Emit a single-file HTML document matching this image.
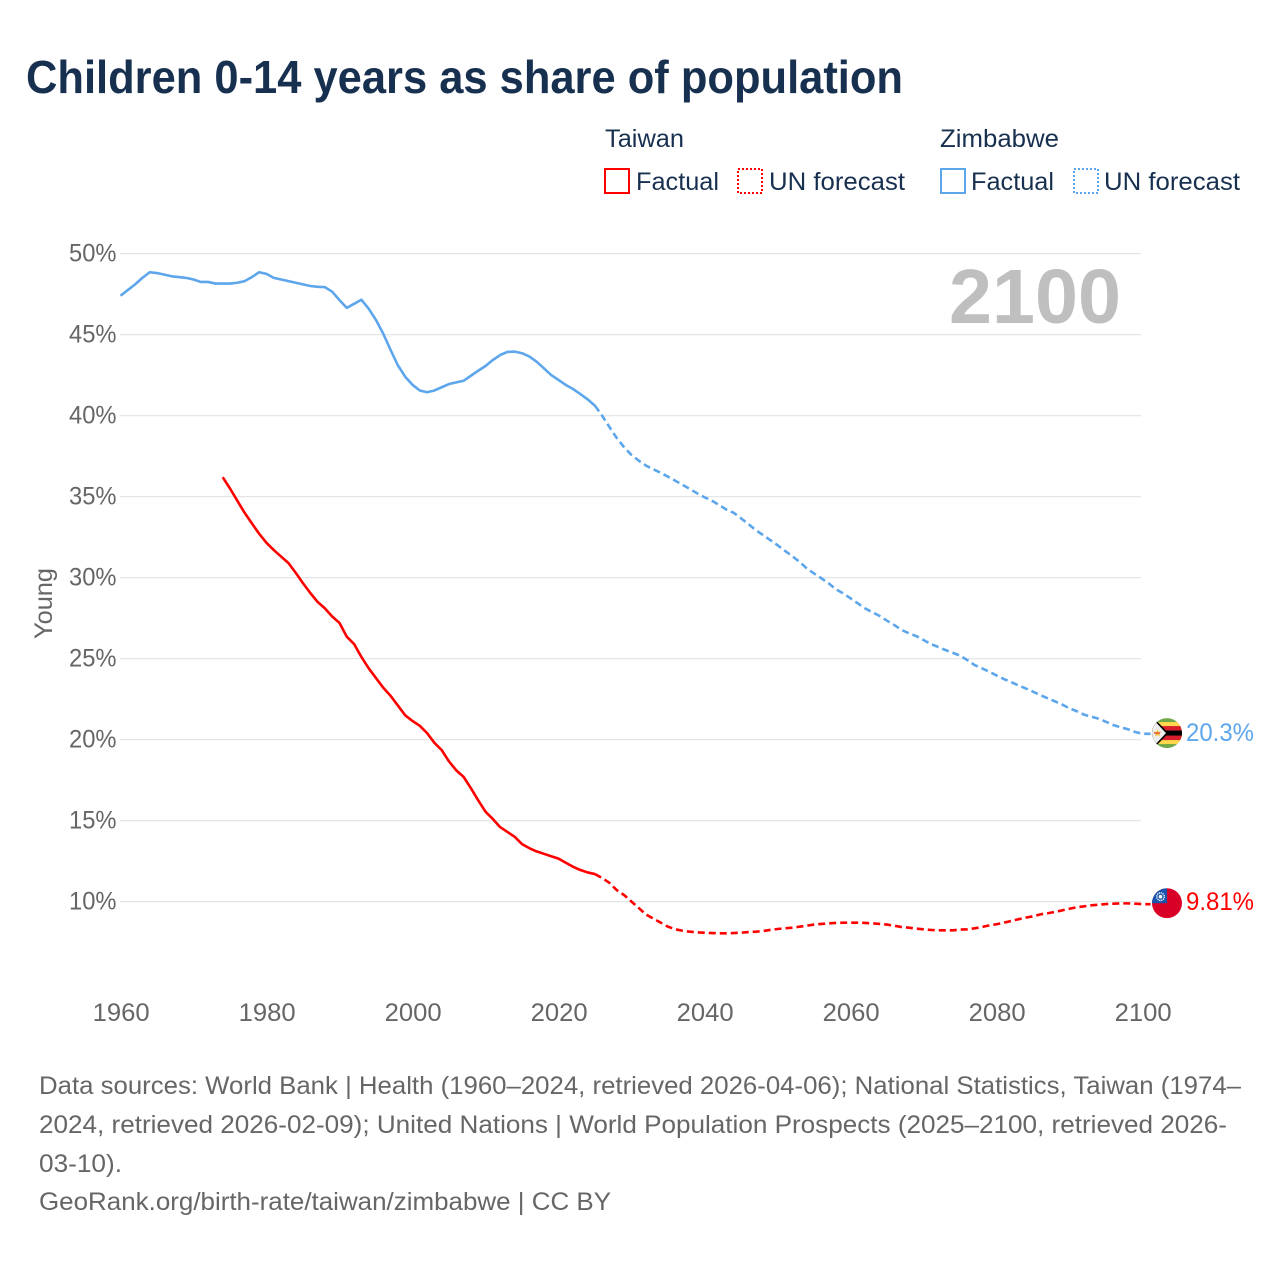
<!DOCTYPE html>
<html lang="en">
<head>
<meta charset="utf-8">
<title>Children 0-14 years as share of population</title>
<style>
html,body{margin:0;padding:0;background:#fff;}
svg{display:block;font-family:"Liberation Sans",sans-serif;}
</style>
</head>
<body>
<svg id="chart" xmlns="http://www.w3.org/2000/svg" width="1280" height="1280" viewBox="0 0 1280 1280">
  <defs>
    <clipPath id="flag-clip"><circle cx="0" cy="0" r="15"/></clipPath>
  </defs>
  <rect x="0" y="0" width="1280" height="1280" fill="#fff"/>

  <text x="26" y="93" font-size="46" font-weight="700" fill="#18304f" textLength="877" lengthAdjust="spacingAndGlyphs">Children 0-14 years as share of population</text>

  <g font-size="25" fill="#18304f">
    <text x="605" y="147" textLength="79" lengthAdjust="spacingAndGlyphs">Taiwan</text>
    <rect x="605" y="169" width="24" height="24" fill="none" stroke="#ff0000" stroke-width="2"/>
    <text x="636" y="190" textLength="83" lengthAdjust="spacingAndGlyphs">Factual</text>
    <rect x="738" y="169" width="24" height="24" fill="none" stroke="#ff0000" stroke-width="2" stroke-dasharray="2 2"/>
    <text x="769" y="190" textLength="136" lengthAdjust="spacingAndGlyphs">UN forecast</text>

    <text x="940" y="147" textLength="119" lengthAdjust="spacingAndGlyphs">Zimbabwe</text>
    <rect x="941" y="169" width="24" height="24" fill="none" stroke="#5da6ec" stroke-width="2"/>
    <text x="971" y="190" textLength="83" lengthAdjust="spacingAndGlyphs">Factual</text>
    <rect x="1074" y="169" width="24" height="24" fill="none" stroke="#5da6ec" stroke-width="2" stroke-dasharray="2 2"/>
    <text x="1104" y="190" textLength="136" lengthAdjust="spacingAndGlyphs">UN forecast</text>
  </g>

  <g id="grid"></g>
  <g id="y-ticks"></g>
  <g id="x-ticks"></g>

  <text transform="translate(52,639) rotate(-90)" font-size="25" fill="#666" textLength="71" lengthAdjust="spacingAndGlyphs">Young</text>

  <text x="949" y="323" font-size="77" font-weight="700" fill="#bfbfbf" textLength="172" lengthAdjust="spacingAndGlyphs">2100</text>

  <g id="series"></g>

  <g id="flag-zimbabwe">
    <g clip-path="url(#flag-clip)">
      <rect x="-15" y="-15" width="30" height="30" fill="#6fa84a"/>
      <rect x="-15" y="-11" width="30" height="22" fill="#ffd84d"/>
      <rect x="-15" y="-7" width="30" height="14" fill="#d81e2c"/>
      <rect x="-15" y="-2.5" width="30" height="5" fill="#000"/>
      <polygon points="-15,-17 1.5,0 -15,17" fill="#000"/>
      <polygon points="-15,-15 -1,0 -15,15" fill="#eeeeee"/>
      <polygon points="-9.5,-4 -8.4,-1.2 -5.5,-1.2 -7.8,0.7 -7,3.5 -9.5,1.9 -12,3.5 -11.2,0.7 -13.5,-1.2 -10.6,-1.2" fill="#f5c33b"/>
      <rect x="-13" y="-0.5" width="6" height="1" fill="#d81e2c"/>
    </g>
  </g>
  <g id="flag-taiwan">
    <g clip-path="url(#flag-clip)">
      <rect x="-15" y="-15" width="30" height="30" fill="#d80027"/>
      <rect x="-15" y="-15" width="15" height="15" fill="#1a55ad"/>
      <circle cx="-6.5" cy="-6.5" r="3.8" fill="none" stroke="#fff" stroke-width="1.4" stroke-dasharray="1.2 0.8"/>
      <circle cx="-6.5" cy="-6.5" r="1.8" fill="#fff"/>
    </g>
  </g>

  <text id="label-zimbabwe" x="1186" font-size="25" fill="#5da6ec" textLength="68" lengthAdjust="spacingAndGlyphs"></text>
  <text id="label-taiwan" x="1186" font-size="25" fill="#ff0000" textLength="68" lengthAdjust="spacingAndGlyphs"></text>

  <g font-size="25" fill="#666">
    <text x="39" y="1094" textLength="1202" lengthAdjust="spacingAndGlyphs">Data sources: World Bank | Health (1960–2024, retrieved 2026-04-06); National Statistics, Taiwan (1974–</text>
    <text x="39" y="1133" textLength="1188" lengthAdjust="spacingAndGlyphs">2024, retrieved 2026-02-09); United Nations | World Population Prospects (2025–2100, retrieved 2026-</text>
    <text x="39" y="1172" textLength="83" lengthAdjust="spacingAndGlyphs">03-10).</text>
    <text x="39" y="1210" textLength="572" lengthAdjust="spacingAndGlyphs">GeoRank.org/birth-rate/taiwan/zimbabwe | CC BY</text>
  </g>
</svg>

<script>
const yTickValues = [50, 45, 40, 35, 30, 25, 20, 15, 10];
const yTickLabels = ["50%", "45%", "40%", "35%", "30%", "25%", "20%", "15%", "10%"];
const xTickYears = [1960, 1980, 2000, 2020, 2040, 2060, 2080, 2100];
const xTickLabels = ["1960", "1980", "2000", "2020", "2040", "2060", "2080", "2100"];

const taiwanFactualStart = 1974;
const taiwanFactual = [
  36.2, 35.5, 34.75, 34.0, 33.35, 32.7,
  32.15, 31.7, 31.3, 30.9, 30.3, 29.65, 29.05, 28.5, 28.1, 27.6,
  27.2, 26.35, 25.9, 25.1, 24.4, 23.8, 23.2, 22.7, 22.1, 21.5,
  21.15, 20.85, 20.4, 19.8, 19.35, 18.65, 18.1, 17.7, 17.0, 16.25,
  15.55, 15.1, 14.6, 14.3, 14.0, 13.55, 13.3, 13.1, 12.95, 12.8,
  12.65, 12.4, 12.15, 11.95, 11.8, 11.7
];
const taiwanForecastStart = 2025;
const taiwanForecast = [
  11.7, 11.45, 11.15, 10.7, 10.4,
  10.0, 9.6, 9.2, 8.95, 8.7, 8.45, 8.29, 8.2, 8.14, 8.10,
  8.08, 8.06, 8.04, 8.04, 8.06, 8.08, 8.12, 8.14, 8.18, 8.25,
  8.31, 8.35, 8.39, 8.45, 8.51, 8.58, 8.62, 8.66, 8.68, 8.70,
  8.70, 8.70, 8.68, 8.66, 8.62, 8.58, 8.51, 8.43, 8.39, 8.33,
  8.29, 8.25, 8.23, 8.23, 8.23, 8.27, 8.29, 8.35, 8.43, 8.53,
  8.60, 8.70, 8.80, 8.91, 9.01, 9.09, 9.21, 9.28, 9.36, 9.46,
  9.56, 9.65, 9.71, 9.77, 9.81, 9.85, 9.87, 9.89, 9.89, 9.87,
  9.84
];
const zimbabweFactualStart = 1960;
const zimbabweFactual = [
  47.4, 47.75, 48.1, 48.5, 48.85, 48.8, 48.7, 48.6, 48.55, 48.5,
  48.4, 48.25, 48.25, 48.15, 48.15, 48.15, 48.2, 48.3, 48.55, 48.85,
  48.75, 48.5, 48.4, 48.3, 48.2, 48.1, 48.0, 47.95, 47.93, 47.65,
  47.13, 46.65, 46.9, 47.15, 46.6, 45.9, 45.05, 44.05, 43.1, 42.4,
  41.9, 41.55, 41.44, 41.55, 41.75, 41.95, 42.05, 42.15, 42.46, 42.77,
  43.06, 43.43, 43.74, 43.93, 43.95, 43.85, 43.65, 43.33, 42.92, 42.5,
  42.2, 41.89, 41.64, 41.33, 41.0, 40.61
];
const zimbabweForecastStart = 2025;
const zimbabweForecast = [
  40.61, 39.98, 39.28, 38.6, 38.04,
  37.57, 37.22, 36.91, 36.68, 36.47, 36.23, 35.98, 35.72, 35.47, 35.2,
  34.96, 34.75, 34.48, 34.2, 34.0, 33.66, 33.31, 32.94, 32.63, 32.32,
  32.0, 31.66, 31.33, 30.98, 30.57, 30.26, 29.96, 29.65, 29.28, 29.03,
  28.72, 28.41, 28.1, 27.86, 27.63, 27.34, 27.07, 26.77, 26.56, 26.39,
  26.15, 25.9, 25.72, 25.53, 25.36, 25.18, 24.91, 24.6, 24.4, 24.19,
  23.96, 23.74, 23.55, 23.35, 23.16, 22.96, 22.75, 22.55, 22.36, 22.16,
  21.93, 21.75, 21.54, 21.41, 21.29, 21.1, 20.9, 20.76, 20.64, 20.47,
  20.36
];
const zimbabweValueLabel = "20.3%";
const taiwanValueLabel = "9.81%";

const NS = "http://www.w3.org/2000/svg";
function xScale(year) { return 120.5 + (year - 1960) * 7.3; }
function yScale(value) { return 253.6 + (50 - value) * 16.2; }

function linePath(startYear, values) {
  return values.map(function (v, i) {
    return (i === 0 ? "M" : "L") + xScale(startYear + i).toFixed(2) + " " + yScale(v).toFixed(2);
  }).join(" ");
}

const gridGroup = document.getElementById("grid");
const yTickGroup = document.getElementById("y-ticks");
yTickValues.forEach(function (v, i) {
  const line = document.createElementNS(NS, "line");
  
  
  line.setAttribute("x1", 120);
  line.setAttribute("x2", 1141);
  line.setAttribute("y1", yScale(v));
  line.setAttribute("y2", yScale(v));
  line.setAttribute("stroke", "#e6e6e6");
  line.setAttribute("stroke-width", "1.3");
  gridGroup.appendChild(line);

  const label = document.createElementNS(NS, "text");
  
  
  label.setAttribute("x", 69);
  label.setAttribute("y", yScale(v) + 8);
  label.setAttribute("font-size", "25");
  label.setAttribute("fill", "#666");
  label.setAttribute("textLength", "47.5");
  label.setAttribute("lengthAdjust", "spacingAndGlyphs");
  label.textContent = yTickLabels[i];
  yTickGroup.appendChild(label);
});

const xTickGroup = document.getElementById("x-ticks");
xTickYears.forEach(function (yr, i) {
  const label = document.createElementNS(NS, "text");
  
  
  label.setAttribute("x", xScale(yr) + 0.6 - 28.5);
  label.setAttribute("y", 1021);
  label.setAttribute("font-size", "25");
  label.setAttribute("fill", "#666");
  label.setAttribute("textLength", "57");
  label.setAttribute("lengthAdjust", "spacingAndGlyphs");
  label.textContent = xTickLabels[i];
  xTickGroup.appendChild(label);
});

const seriesGroup = document.getElementById("series");

const taiwanFactualLine = document.createElementNS(NS, "path");


taiwanFactualLine.setAttribute("d", linePath(taiwanFactualStart, taiwanFactual));
taiwanFactualLine.setAttribute("fill", "none");
taiwanFactualLine.setAttribute("stroke", "#ff0000");
taiwanFactualLine.setAttribute("stroke-width", "2.6");
taiwanFactualLine.setAttribute("stroke-linejoin", "round");
seriesGroup.appendChild(taiwanFactualLine);

const taiwanForecastLine = document.createElementNS(NS, "path");


taiwanForecastLine.setAttribute("d", linePath(taiwanForecastStart, taiwanForecast) + " h8");
taiwanForecastLine.setAttribute("fill", "none");
taiwanForecastLine.setAttribute("stroke", "#ff0000");
taiwanForecastLine.setAttribute("stroke-width", "2.6");
taiwanForecastLine.setAttribute("stroke-dasharray", "7 4");
seriesGroup.appendChild(taiwanForecastLine);

const zimbabweFactualLine = document.createElementNS(NS, "path");


zimbabweFactualLine.setAttribute("d", linePath(zimbabweFactualStart, zimbabweFactual));
zimbabweFactualLine.setAttribute("fill", "none");
zimbabweFactualLine.setAttribute("stroke", "#5da6ec");
zimbabweFactualLine.setAttribute("stroke-width", "2.6");
zimbabweFactualLine.setAttribute("stroke-linejoin", "round");
seriesGroup.appendChild(zimbabweFactualLine);

const zimbabweForecastLine = document.createElementNS(NS, "path");


zimbabweForecastLine.setAttribute("d", linePath(zimbabweForecastStart, zimbabweForecast) + " h8");
zimbabweForecastLine.setAttribute("fill", "none");
zimbabweForecastLine.setAttribute("stroke", "#5da6ec");
zimbabweForecastLine.setAttribute("stroke-width", "2.6");
zimbabweForecastLine.setAttribute("stroke-dasharray", "7 4");
seriesGroup.appendChild(zimbabweForecastLine);

const zimbabweEndY = yScale(zimbabweForecast[zimbabweForecast.length - 1]);
const taiwanEndY = yScale(taiwanForecast[taiwanForecast.length - 1]);
document.getElementById("flag-zimbabwe").setAttribute("transform", "translate(1167," + (zimbabweEndY - 0.7) + ")");
document.getElementById("flag-taiwan").setAttribute("transform", "translate(1167," + (taiwanEndY - 1) + ")");

const zimbabweLabel = document.getElementById("label-zimbabwe");
zimbabweLabel.setAttribute("y", zimbabweEndY + 7);
zimbabweLabel.textContent = zimbabweValueLabel;
const taiwanLabel = document.getElementById("label-taiwan");
taiwanLabel.setAttribute("y", taiwanEndY + 6);
taiwanLabel.textContent = taiwanValueLabel;
</script>
</body>
</html>
